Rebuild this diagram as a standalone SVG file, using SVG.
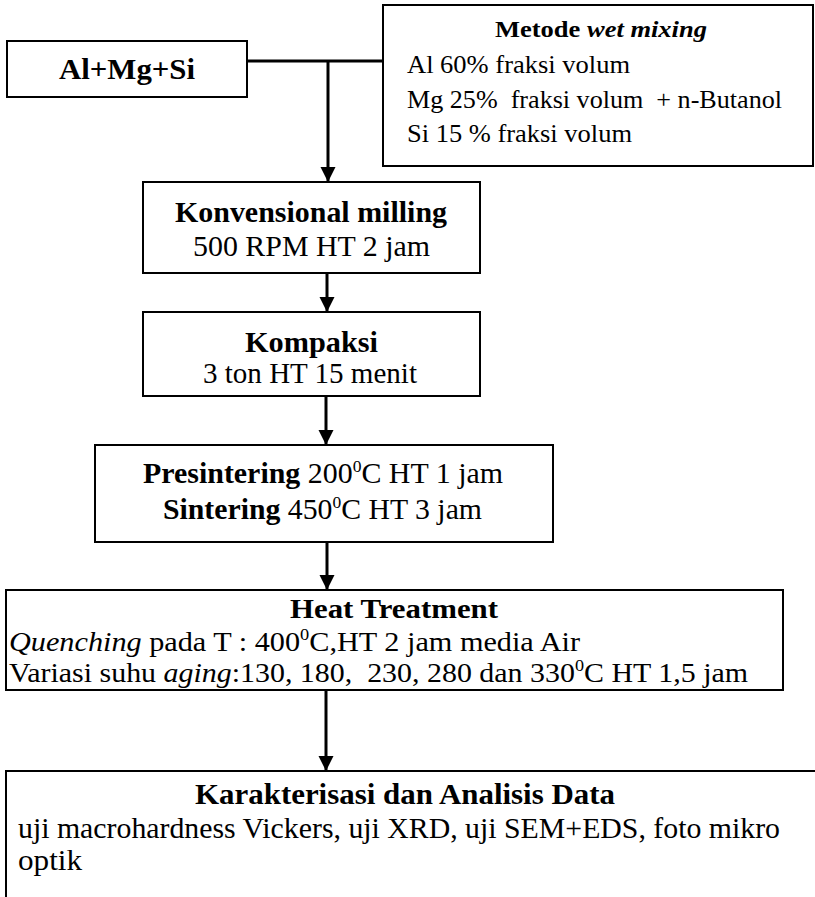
<svg xmlns="http://www.w3.org/2000/svg" width="815" height="897" viewBox="0 0 815 897">
<defs>
<style>
.box{fill:#fff;stroke:#000;stroke-width:2}
.t{font-family:"Liberation Serif","Times New Roman",serif;fill:#000}
.b{font-weight:bold}
.i{font-style:italic}
.c{stroke:#000;stroke-width:3;fill:none}
</style>
<marker id="ah" viewBox="0 0 10 10" refX="10" refY="5" markerWidth="5" markerHeight="5.5" markerUnits="strokeWidth" orient="auto">
<path d="M0,0 L10,5 L0,10 Z" fill="#000"/>
</marker>
</defs>
<rect width="815" height="897" fill="#fff"/>
<g id="connectors">
<line class="c" x1="247" y1="61" x2="383" y2="61"/>
<line class="c" x1="328" y1="61" x2="328" y2="182" marker-end="url(#ah)"/>
<line class="c" x1="327" y1="273" x2="327" y2="312" marker-end="url(#ah)"/>
<line class="c" x1="326" y1="396" x2="326" y2="445" marker-end="url(#ah)"/>
<line class="c" x1="327" y1="542" x2="327" y2="590" marker-end="url(#ah)"/>
<line class="c" x1="326" y1="690" x2="326" y2="771" marker-end="url(#ah)"/>
</g>
<g id="n-almgsi">
<rect class="box" x="7" y="41" width="240" height="56"/>
<text class="t b" x="59" y="79" font-size="30" textLength="136" lengthAdjust="spacingAndGlyphs">Al+Mg+Si</text>
</g>
<g id="n-metode">
<rect class="box" x="383" y="5" width="430" height="161"/>
<text class="t" x="495" y="37" font-size="24" textLength="212" lengthAdjust="spacingAndGlyphs"><tspan class="b">Metode  </tspan><tspan class="b i">wet mixing</tspan></text>
<text class="t" x="407" y="73" font-size="26" textLength="223" lengthAdjust="spacingAndGlyphs">Al 60% fraksi volum</text>
<text class="t" x="407" y="108" font-size="26" textLength="375" lengthAdjust="spacingAndGlyphs" xml:space="preserve">Mg 25%  fraksi volum  + n-Butanol</text>
<text class="t" x="407" y="142" font-size="26" textLength="225" lengthAdjust="spacingAndGlyphs">Si 15 % fraksi volum</text>
</g>
<g id="n-milling">
<rect class="box" x="143" y="182" width="337" height="91"/>
<text class="t b" x="175" y="222" font-size="29" textLength="272" lengthAdjust="spacingAndGlyphs">Konvensional milling</text>
<text class="t" x="193" y="256" font-size="29" textLength="237" lengthAdjust="spacingAndGlyphs">500 RPM HT 2 jam</text>
</g>
<g id="n-kompaksi">
<rect class="box" x="143" y="312" width="337" height="84"/>
<text class="t b" x="245" y="352" font-size="29" textLength="133" lengthAdjust="spacingAndGlyphs">Kompaksi</text>
<text class="t" x="203" y="383" font-size="29" textLength="214" lengthAdjust="spacingAndGlyphs">3 ton HT 15 menit</text>
</g>
<g id="n-sintering">
<rect class="box" x="95" y="445" width="458" height="97"/>
<text class="t" x="143" y="483" font-size="29" textLength="360" lengthAdjust="spacingAndGlyphs"><tspan class="b">Presintering</tspan> 200<tspan font-size="17" dy="-11">0</tspan><tspan dy="11">C HT 1 jam</tspan></text>
<text class="t" x="163" y="519" font-size="29" textLength="319" lengthAdjust="spacingAndGlyphs"><tspan class="b">Sintering</tspan> 450<tspan font-size="17" dy="-11">0</tspan><tspan dy="11">C HT 3 jam</tspan></text>
</g>
<g id="n-heat">
<rect class="box" x="6" y="590" width="777" height="100"/>
<text class="t b" x="290" y="618" font-size="27" textLength="208" lengthAdjust="spacingAndGlyphs">Heat Treatment</text>
<text class="t" x="9" y="651" font-size="28" textLength="571" lengthAdjust="spacingAndGlyphs"><tspan class="i">Quenching</tspan> pada T : 400<tspan font-size="17" dy="-11">0</tspan><tspan dy="11">C,HT 2 jam media Air</tspan></text>
<text class="t" x="9" y="682" font-size="28" textLength="739" lengthAdjust="spacingAndGlyphs" xml:space="preserve">Variasi suhu <tspan class="i">aging</tspan>:130, 180,  230, 280 dan 330<tspan font-size="17" dy="-11">0</tspan><tspan dy="11">C HT 1,5 jam</tspan></text>
</g>
<g id="n-karakterisasi">
<rect class="box" x="6" y="771" width="820" height="140"/>
<text class="t b" x="195" y="804" font-size="29" textLength="420" lengthAdjust="spacingAndGlyphs">Karakterisasi dan Analisis Data</text>
<text class="t" x="18" y="838" font-size="30" textLength="762" lengthAdjust="spacingAndGlyphs">uji macrohardness Vickers, uji XRD, uji SEM+EDS, foto mikro</text>
<text class="t" x="18" y="870" font-size="30" textLength="64" lengthAdjust="spacingAndGlyphs">optik</text>
</g>
</svg>
